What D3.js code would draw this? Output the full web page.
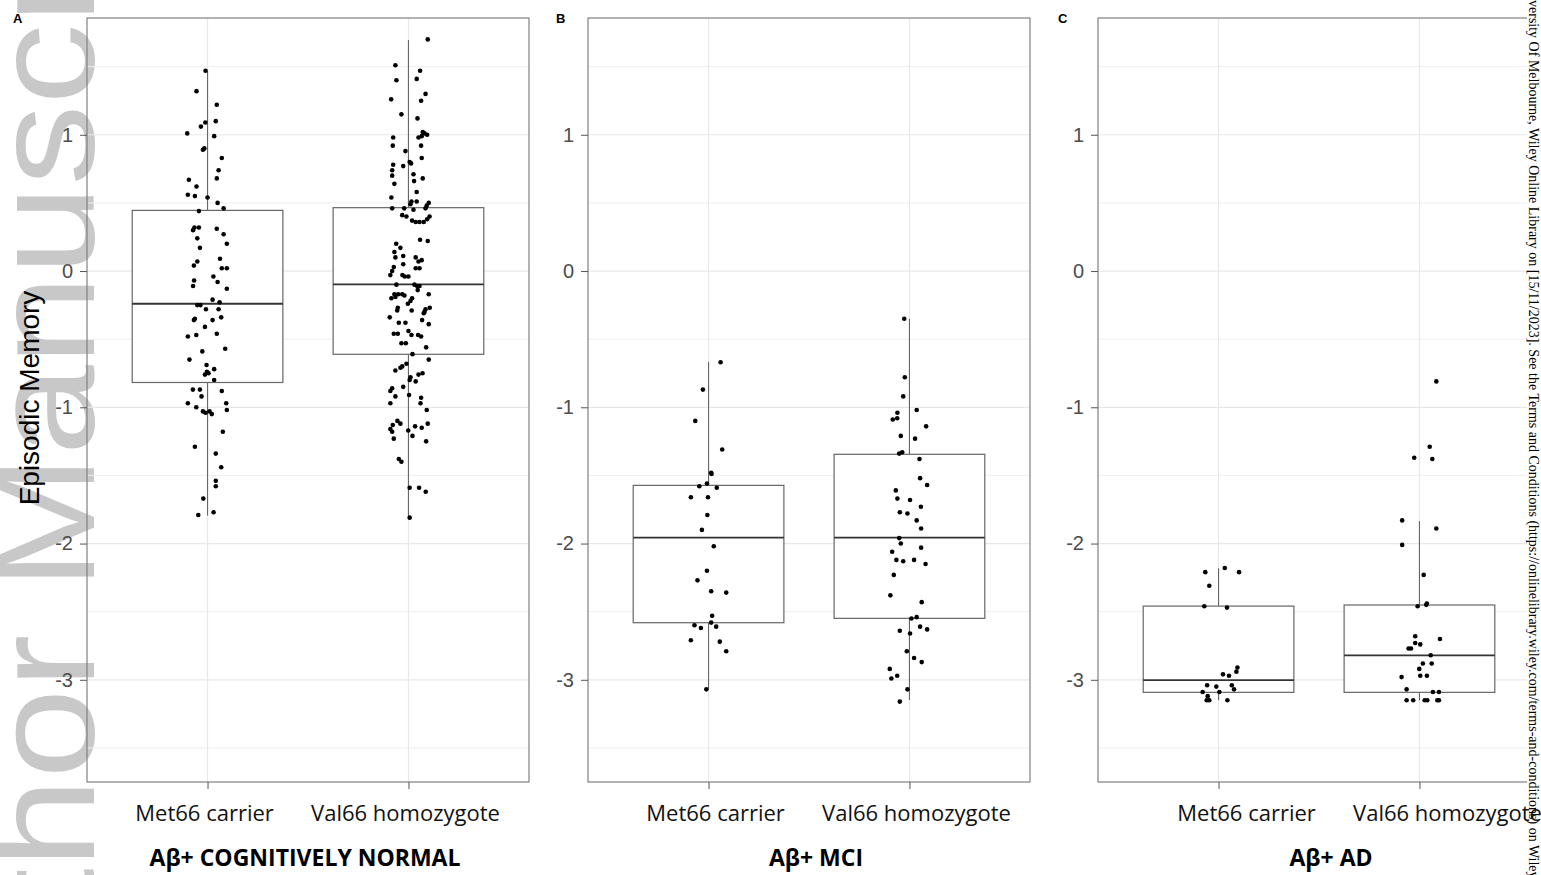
<!DOCTYPE html>
<html>
<head>
<meta charset="utf-8">
<script src="https://cdn.jsdelivr.net/npm/d3@7/dist/d3.min.js"></script>
<style>
  body { margin: 0; background: #fff; }
  svg { display: block; }
</style>
</head>
<body>
<div id="chart"></div>
<script>
const groups = ['Met66 carrier', 'Val66 homozygote'];
const panelTitles = ['Aβ+ COGNITIVELY NORMAL', 'Aβ+ MCI', 'Aβ+ AD'];
const panelLetters = ['A', 'B', 'C'];
const yTicks = [-3, -2, -1, 0, 1];
const yMinor = [-3.5, -2.5, -1.5, -0.5, 0.5, 1.5];
const yLabel = 'Episodic Memory';

// box stats per group: [lower whisker, q1, median, q3, upper whisker]
const boxCN = [[-1.795, -0.818, -0.240, 0.445, 1.468], [-1.805, -0.611, -0.098, 0.465, 1.695]];
const boxMCI = [[-3.068, -2.581, -1.957, -1.573, -0.666], [-3.148, -2.549, -1.957, -1.345, -0.350]];
const boxAD = [[-3.150, -3.092, -3.002, -2.459, -2.182], [-3.150, -3.092, -2.821, -2.451, -1.835]];

// jittered points: [jitter (category units), episodic memory]
const cnMet = [
  [-0.01, 1.47], [-0.055, 1.32], [0.046, 1.22], [0.041, 1.10], [-0.011, 1.09], [-0.033, 1.06], [-0.101, 1.01], [0.033, 0.99],
  [-0.023, 0.89], [-0.016, 0.90], [0.071, 0.83], [0.055, 0.74], [0.046, 0.68], [-0.093, 0.67], [-0.055, 0.62], [-0.098, 0.56],
  [-0.063, 0.55], [0, 0.54], [0.05, 0.50], [0.08, 0.46], [-0.043, 0.44], [-0.072, 0.30], [-0.065, 0.32], [-0.043, 0.32],
  [0.046, 0.31], [0.08, 0.27], [-0.051, 0.24], [0.096, 0.20], [-0.038, 0.17], [0.062, 0.09], [-0.051, 0.07], [-0.068, 0.04],
  [0.096, 0.02], [0.071, 0.02], [0.029, -0.04], [-0.067, -0.07], [0.05, -0.08], [-0.072, -0.11], [0.096, -0.13], [0.025, -0.21],
  [0.06, -0.23], [-0.051, -0.25], [-0.035, -0.25], [-0.008, -0.28], [0.055, -0.28], [0.068, -0.34], [-0.063, -0.35], [-0.068, -0.36],
  [0.025, -0.36], [-0.013, -0.41], [0.046, -0.46], [-0.056, -0.47], [-0.098, -0.48], [0.088, -0.57], [-0.026, -0.59], [-0.09, -0.65],
  [-0.005, -0.69], [0.033, -0.72], [-0.003, -0.74], [0.005, -0.75], [-0.013, -0.76], [0.033, -0.80], [-0.038, -0.87], [-0.073, -0.87],
  [0.071, -0.88], [-0.03, -0.92], [-0.098, -0.97], [0.093, -0.97], [-0.056, -1.00], [0.096, -1.02], [-0.023, -1.03], [-0.01, -1.04],
  [0.01, -1.03], [0.021, -1.05], [0.076, -1.18], [-0.063, -1.29], [0.041, -1.34], [0.068, -1.44], [0.041, -1.54], [0.041, -1.58],
  [-0.021, -1.67], [0.03, -1.77], [-0.046, -1.79]
];
const cnVal = [
  [0.096, 1.70], [-0.065, 1.51], [0.058, 1.47], [-0.06, 1.40], [0.041, 1.41], [0.085, 1.30], [-0.086, 1.26], [0.063, 1.25],
  [-0.035, 1.15], [0.045, 1.12], [0.071, 1.02], [0.08, 1.01], [0.093, 1.00], [0.066, 0.99], [0.05, 0.98], [-0.076, 0.98],
  [-0.078, 0.92], [0.063, 0.92], [-0.015, 0.88], [0.066, 0.83], [0.006, 0.80], [0.013, 0.79], [-0.076, 0.78], [-0.026, 0.77],
  [-0.081, 0.74], [0.025, 0.71], [-0.081, 0.70], [0.071, 0.68], [0.028, 0.66], [-0.07, 0.64], [0.041, 0.58], [-0.085, 0.54],
  [0.015, 0.51], [0.041, 0.51], [0.101, 0.50], [0.01, 0.49], [0.091, 0.48], [0.085, 0.46], [-0.081, 0.46], [-0.021, 0.46],
  [0.025, 0.45], [-0.031, 0.41], [0.105, 0.40], [-0.01, 0.40], [0.093, 0.38], [0.076, 0.36], [0.055, 0.36], [0.036, 0.36],
  [0.018, 0.37], [0.058, 0.23], [0.096, 0.22], [-0.061, 0.20], [-0.04, 0.17], [-0.07, 0.14], [-0.065, 0.10], [-0.026, 0.11],
  [0.036, 0.10], [0.066, 0.08], [0.05, 0.07], [-0.026, 0.05], [-0.073, 0.03], [0.036, 0.02], [0.055, 0.02], [-0.081, 0.00],
  [-0.03, -0.03], [-0.09, -0.03], [-0.018, -0.04], [0, -0.04], [-0.06, -0.10], [0.03, -0.10], [0.043, -0.11], [0.055, -0.11],
  [0.046, -0.14], [0.101, -0.17], [-0.07, -0.17], [-0.051, -0.17], [-0.031, -0.17], [-0.02, -0.18], [-0.065, -0.19], [-0.085, -0.20],
  [0.018, -0.20], [0.01, -0.22], [-0.003, -0.24], [0.106, -0.27], [-0.053, -0.27], [0.085, -0.28], [-0.056, -0.29], [0.08, -0.30],
  [0.016, -0.29], [0.076, -0.31], [-0.093, -0.34], [0.068, -0.36], [-0.048, -0.38], [-0.015, -0.38], [0.101, -0.39], [0, -0.44],
  [-0.073, -0.46], [-0.053, -0.46], [0.015, -0.47], [0.048, -0.47], [0.063, -0.48], [-0.035, -0.53], [-0.013, -0.53], [0.088, -0.56],
  [0.02, -0.61], [0.101, -0.65], [-0.01, -0.68], [-0.031, -0.70], [-0.04, -0.71], [-0.065, -0.73], [0.07, -0.75], [0.05, -0.76],
  [0.01, -0.78], [0.006, -0.80], [0.036, -0.81], [-0.026, -0.85], [-0.081, -0.86], [-0.09, -0.88], [0.003, -0.91], [-0.065, -0.92],
  [0.063, -0.93], [-0.09, -0.97], [0.06, -0.97], [0.091, -1.02], [-0.055, -1.10], [-0.04, -1.12], [0.096, -1.12], [-0.078, -1.13],
  [0.033, -1.14], [0.066, -1.15], [-0.09, -1.16], [-0.001, -1.17], [-0.081, -1.18], [0.02, -1.21], [-0.073, -1.23], [0.088, -1.25],
  [-0.048, -1.38], [-0.035, -1.40], [0.006, -1.59], [0.053, -1.59], [0.086, -1.62], [0.006, -1.81]
];
const mciMet = [
  [0.06, -0.67], [-0.028, -0.87], [-0.066, -1.10], [0.068, -1.31], [0.013, -1.48], [0.015, -1.49], [-0.008, -1.56], [-0.046, -1.58],
  [0.041, -1.59], [-0.088, -1.66], [-0.003, -1.66], [-0.006, -1.79], [-0.033, -1.90], [0.026, -2.02], [-0.008, -2.20], [-0.055, -2.27],
  [0.013, -2.35], [0.088, -2.36], [0.018, -2.53], [0.013, -2.58], [-0.07, -2.60], [0.038, -2.61], [-0.038, -2.62], [-0.088, -2.71],
  [0.056, -2.72], [0.088, -2.79], [-0.011, -3.07]
];
const mciVal = [
  [-0.026, -0.35], [-0.023, -0.78], [-0.031, -0.92], [0.036, -1.02], [-0.06, -1.04], [-0.083, -1.09], [-0.061, -1.08], [0.083, -1.14],
  [-0.043, -1.21], [0.028, -1.23], [-0.051, -1.34], [-0.036, -1.33], [0.05, -1.38], [0.053, -1.52], [0.088, -1.57], [-0.068, -1.61],
  [-0.06, -1.67], [0.003, -1.68], [0.057, -1.73], [-0.048, -1.77], [-0.01, -1.78], [0.036, -1.83], [0.058, -1.89], [-0.051, -1.96],
  [-0.043, -2.00], [0.058, -2.03], [-0.086, -2.06], [-0.065, -2.12], [0.023, -2.12], [-0.031, -2.13], [0.08, -2.15], [-0.078, -2.23],
  [-0.095, -2.38], [0.061, -2.43], [0.036, -2.54], [0.01, -2.55], [0.053, -2.61], [0.088, -2.63], [-0.048, -2.64], [0.003, -2.66],
  [-0.013, -2.79], [0.023, -2.84], [0.061, -2.87], [-0.098, -2.92], [-0.061, -2.97], [-0.09, -2.99], [-0.01, -3.07], [-0.048, -3.16]
];
const adMet = [
  [-0.066, -2.21], [0.031, -2.18], [0.102, -2.21], [-0.046, -2.31], [-0.071, -2.46], [0.042, -2.47], [0.094, -2.91], [0.089, -2.94],
  [0.022, -2.96], [0.052, -2.97], [-0.057, -3.04], [0.066, -3.04], [-0.011, -3.05], [0.077, -3.07], [-0.079, -3.09], [0.004, -3.09],
  [-0.054, -3.12], [-0.059, -3.15], [-0.046, -3.15], [0.044, -3.15]
];
const adVal = [
  [0.084, -0.81], [0.051, -1.29], [-0.026, -1.37], [0.064, -1.38], [-0.086, -1.83], [0.084, -1.89], [-0.086, -2.01], [0.021, -2.23],
  [-0.009, -2.46], [0.034, -2.45], [0.037, -2.44], [-0.021, -2.68], [0.102, -2.70], [-0.021, -2.73], [0.004, -2.74], [-0.054, -2.77],
  [-0.042, -2.77], [0.056, -2.82], [0.017, -2.88], [0.061, -2.88], [-0.001, -2.92], [-0.089, -2.98], [0.004, -2.97], [0.037, -2.97],
  [-0.064, -3.07], [0.067, -3.09], [0.097, -3.09], [-0.064, -3.15], [-0.031, -3.15], [0.026, -3.15], [0.039, -3.15], [0.089, -3.15],
  [0.097, -3.15]
];

const panelBoxes = [boxCN, boxMCI, boxAD];
const panelPoints = [[cnMet, cnVal], [mciMet, mciVal], [adMet, adVal]];

const width = 1541;
const height = 875;
const panelLeft = [87, 588, 1098];
const panelW = 442;
const panelTop = 18;
const panelH = 764;
// hand-placed offsets seen in the figure
const labelNudge = [-3, 7, 28];
const titleNudge = [-3, 7, 12];
const letterX = [13, 556, 1058];

const svg = d3.select('#chart')
  .append('svg')
  .attr('width', width)
  .attr('height', height);

// watermark
svg.append('text')
  .attr('transform', 'translate(94,1111) rotate(-90) scale(1.115,1)')
  .style('font-family', 'Liberation Sans, Arial, sans-serif')
  .style('font-size', '145px')
  .style('fill', '#c8c8c8')
  .text('Author Manuscript');

const x = d3.scaleLinear().domain([0.4, 2.6]).range([0, panelW]);
const y = d3.scaleLinear().domain([-3.75, 1.857]).range([panelH, 0]);
const boxW = 0.75;

panelBoxes.forEach((boxes, p) => {
  const g = svg.append('g').attr('transform', `translate(${panelLeft[p]},${panelTop})`);

  // grid
  g.append('g').selectAll('line.minor')
    .data(yMinor).enter().append('line')
    .attr('x1', 0).attr('x2', panelW)
    .attr('y1', d => y(d)).attr('y2', d => y(d))
    .attr('stroke', '#efefef').attr('stroke-width', 1);
  g.append('g').selectAll('line.major')
    .data(yTicks).enter().append('line')
    .attr('x1', 0).attr('x2', panelW)
    .attr('y1', d => y(d)).attr('y2', d => y(d))
    .attr('stroke', '#e8e8e8').attr('stroke-width', 1.2);
  g.append('g').selectAll('line.vgrid')
    .data(groups).enter().append('line')
    .attr('x1', (d, i) => x(i + 1)).attr('x2', (d, i) => x(i + 1))
    .attr('y1', 0).attr('y2', panelH)
    .attr('stroke', '#e8e8e8').attr('stroke-width', 1.2);

  // boxplots
  const bg = g.append('g').selectAll('g')
    .data(boxes).enter().append('g');
  bg.append('line')
    .attr('x1', (d, i) => x(i + 1)).attr('x2', (d, i) => x(i + 1))
    .attr('y1', d => y(d[4])).attr('y2', d => y(d[3]))
    .attr('stroke', '#666').attr('stroke-width', 1.1);
  bg.append('line')
    .attr('x1', (d, i) => x(i + 1)).attr('x2', (d, i) => x(i + 1))
    .attr('y1', d => y(d[1])).attr('y2', d => y(d[0]))
    .attr('stroke', '#666').attr('stroke-width', 1.1);
  bg.append('rect')
    .attr('x', (d, i) => x(i + 1 - boxW / 2))
    .attr('width', x(1 + boxW) - x(1))
    .attr('y', d => y(d[3]))
    .attr('height', d => y(d[1]) - y(d[3]))
    .attr('fill', '#fff').attr('stroke', '#666').attr('stroke-width', 1.2);
  bg.append('line')
    .attr('x1', (d, i) => x(i + 1 - boxW / 2)).attr('x2', (d, i) => x(i + 1 + boxW / 2))
    .attr('y1', d => y(d[2])).attr('y2', d => y(d[2]))
    .attr('stroke', '#333').attr('stroke-width', 1.8);

  // jittered points
  panelPoints[p].forEach((pts, i) => {
    g.append('g').selectAll('circle')
      .data(pts).enter().append('circle')
      .attr('cx', d => x(i + 1 + d[0]))
      .attr('cy', d => y(d[1]))
      .attr('r', 2.3)
      .attr('fill', '#000');
  });

  // border
  g.append('rect')
    .attr('width', panelW).attr('height', panelH)
    .attr('fill', 'none').attr('stroke', '#808080').attr('stroke-width', 1.2);

  // y axis
  const ya = g.append('g')
    .call(d3.axisLeft(y).tickValues(yTicks).tickSize(7).tickPadding(7).tickFormat(d => String(d)));
  ya.select('.domain').remove();
  ya.selectAll('line').attr('stroke', '#555');
  ya.selectAll('text')
    .attr('fill', '#4d4d4d')
    .style('font-family', 'Liberation Sans, Arial, sans-serif')
    .style('font-size', '20px');

  // x ticks
  const xa = g.append('g')
    .attr('transform', `translate(0,${panelH})`)
    .call(d3.axisBottom(x).tickValues([1, 2]).tickSize(7).tickFormat(''));
  xa.select('.domain').remove();
  xa.selectAll('line').attr('stroke', '#555');
});

// white strip under the download notice (hides the right panel edge)
svg.append('rect')
  .attr('x', 1527).attr('y', 0).attr('width', 14).attr('height', 792)
  .attr('fill', '#fff');

panelTitles.forEach((title, p) => {
  const g = svg.append('g').attr('transform', `translate(${panelLeft[p]},0)`);

  // category labels
  g.append('g').selectAll('text')
    .data(groups).enter().append('text')
    .attr('x', (d, i) => x(i + 1) + labelNudge[p])
    .attr('y', 821)
    .attr('text-anchor', 'middle')
    .style('font-family', 'Open Sans, Lato, sans-serif')
    .style('font-size', '22px')
    .style('fill', '#111')
    .text(d => d);

  // panel title
  g.append('text')
    .attr('x', panelW / 2 + titleNudge[p])
    .attr('y', 866)
    .attr('text-anchor', 'middle')
    .style('font-family', 'Open Sans, Lato, sans-serif')
    .style('font-weight', 'bold')
    .style('font-size', '23px')
    .style('fill', '#000')
    .text(title);

  // panel letter
  svg.append('text')
    .attr('x', letterX[p])
    .attr('y', 23)
    .style('font-family', 'Liberation Sans, Arial, sans-serif')
    .style('font-weight', 'bold')
    .style('font-size', '13px')
    .text(panelLetters[p]);
});

// y title
svg.append('text')
  .attr('transform', 'translate(39,398) rotate(-90)')
  .attr('text-anchor', 'middle')
  .style('font-family', 'Liberation Sans, Arial, sans-serif')
  .style('font-size', '28px')
  .style('fill', '#000')
  .text(yLabel);

// download notice along the right edge
svg.append('text')
  .attr('transform', 'translate(1529,-21) rotate(90)')
  .style('font-family', 'Liberation Serif, Times New Roman, serif')
  .style('font-size', '14px')
  .style('fill', '#000')
  .text('University Of Melbourne, Wiley Online Library on [15/11/2023]. See the Terms and Conditions (https://onlinelibrary.wiley.com/terms-and-conditions) on Wiley Online Library for rules of use; OA articles are governed by the applicable Creative Commons License');
</script>
</body>
</html>
